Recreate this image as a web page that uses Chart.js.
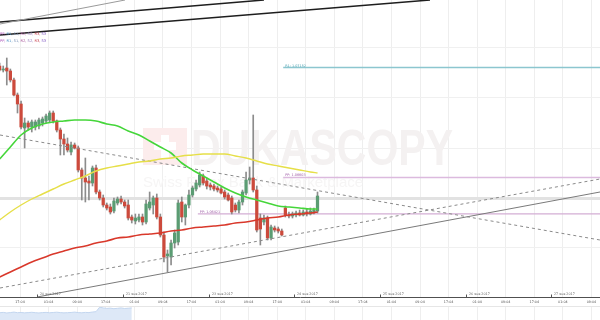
<!DOCTYPE html>
<html>
<head>
<meta charset="utf-8">
<script src="https://cdn.jsdelivr.net/npm/chart.js@4.4.1/dist/chart.umd.min.js"></script>
<style>
  html, body { margin:0; padding:0; background:#fff; }
  #wrap { position:relative; width:600px; height:320px; overflow:hidden; }
  #mainBox { position:absolute; left:0; top:0; width:600px; height:306px; }
  #volBox { position:absolute; left:0; top:306px; width:600px; height:14px; border-top:1px solid #e6e6e6; box-sizing:border-box; }
</style>
</head>
<body>
<div id="wrap">
  <div id="mainBox"><canvas id="main"></canvas></div>
  <div id="volBox"><canvas id="vol"></canvas></div>
</div>
<script>
// hourly candles, x = hour index
const opens  = [1.07160,1.07140,1.07150,1.07135,1.07090,1.07015,1.06970,1.06850,1.06875,1.06855,
                1.06855,1.06860,1.06875,1.06885,1.06890,1.06925,1.06885,1.06840,1.06795,1.06770,
                1.06730,1.06765,1.06750,1.06640,1.06600,1.06585,1.06575,1.06650,1.06530,1.06500,
                1.06465,1.06455,1.06435,1.06475,1.06495,1.06480,1.06465,1.06405,1.06385,1.06390,
                1.06405,1.06380,1.06450,1.06465,1.06500,1.06405,1.06315,1.06210,1.06205,1.06275,
                1.06280,1.06480,1.06405,1.06465,1.06515,1.06545,1.06565,1.06610,1.06585,1.06565,
                1.06560,1.06550,1.06545,1.06530,1.06515,1.06500,1.06465,1.06440,1.06480,1.06525,
                1.06590,1.06600,1.06540,1.06400,1.06380,1.06400,1.06300,1.06350,1.06345,1.06335,
                1.06450,1.06415,1.06410,1.06415,1.06425,1.06415,1.06430,1.06420,1.06430,1.06435];
const highs  = [1.07175,1.07160,1.07200,1.07145,1.07100,1.07025,1.06985,1.06900,1.06885,1.06890,
                1.06890,1.06900,1.06905,1.06920,1.06935,1.06935,1.06890,1.06850,1.06820,1.06800,
                1.06780,1.06775,1.06760,1.06650,1.06700,1.06610,1.06660,1.06665,1.06540,1.06515,
                1.06475,1.06470,1.06500,1.06505,1.06510,1.06490,1.06490,1.06415,1.06420,1.06420,
                1.06420,1.06490,1.06530,1.06510,1.06520,1.06420,1.06330,1.06240,1.06290,1.06340,
                1.06490,1.06505,1.06470,1.06540,1.06560,1.06590,1.06630,1.06620,1.06600,1.06575,
                1.06570,1.06560,1.06555,1.06540,1.06525,1.06510,1.06475,1.06490,1.06540,1.06630,
                1.06655,1.06915,1.06560,1.06420,1.06415,1.06410,1.06365,1.06360,1.06355,1.06345,
                1.06460,1.06430,1.06430,1.06435,1.06440,1.06440,1.06445,1.06450,1.06450,1.06530];
const lows   = [1.07135,1.07130,1.07065,1.07080,1.07010,1.06925,1.06845,1.06750,1.06840,1.06830,
                1.06840,1.06845,1.06860,1.06875,1.06880,1.06875,1.06830,1.06715,1.06715,1.06730,
                1.06715,1.06745,1.06630,1.06490,1.06480,1.06490,1.06560,1.06520,1.06490,1.06455,
                1.06440,1.06420,1.06425,1.06465,1.06470,1.06450,1.06390,1.06375,1.06370,1.06380,
                1.06365,1.06370,1.06440,1.06420,1.06395,1.06305,1.06180,1.06130,1.06165,1.06250,
                1.06265,1.06380,1.06365,1.06450,1.06505,1.06535,1.06555,1.06565,1.06545,1.06540,
                1.06535,1.06530,1.06520,1.06495,1.06485,1.06420,1.06430,1.06425,1.06465,1.06515,
                1.06570,1.06530,1.06330,1.06265,1.06365,1.06290,1.06290,1.06330,1.06325,1.06310,
                1.06405,1.06400,1.06400,1.06405,1.06410,1.06410,1.06410,1.06415,1.06420,1.06425];
const closes = [1.07140,1.07145,1.07135,1.07090,1.07015,1.06970,1.06855,1.06875,1.06855,1.06880,
                1.06880,1.06890,1.06895,1.06910,1.06925,1.06885,1.06840,1.06795,1.06770,1.06740,
                1.06765,1.06750,1.06640,1.06600,1.06580,1.06575,1.06650,1.06530,1.06500,1.06465,
                1.06450,1.06430,1.06485,1.06495,1.06480,1.06460,1.06400,1.06390,1.06400,1.06405,
                1.06380,1.06470,1.06480,1.06500,1.06405,1.06315,1.06205,1.06220,1.06275,1.06325,
                1.06475,1.06405,1.06465,1.06515,1.06550,1.06575,1.06615,1.06575,1.06560,1.06555,
                1.06545,1.06540,1.06525,1.06505,1.06490,1.06430,1.06440,1.06480,1.06530,1.06590,
                1.06600,1.06540,1.06340,1.06345,1.06400,1.06300,1.06355,1.06340,1.06335,1.06315,
                1.06415,1.06410,1.06420,1.06425,1.06415,1.06430,1.06420,1.06435,1.06440,1.06510];

// moving averages read every 3rd candle
const maIdx    = [0,3,6,9,12,15,18,21,24,27,30,33,36,39,42,45,48,51,54,57,60,63,66,69,72,75,78,81,84,87,89];
const maGreen  = [1.06695,1.06755,1.06815,1.06850,1.06870,1.06880,1.06885,1.06890,1.06890,1.06885,1.06870,
                  1.06860,1.06835,1.06815,1.06785,1.06755,1.06725,1.06675,1.06640,1.06610,1.06580,1.06550,
                  1.06525,1.06505,1.06490,1.06475,1.06460,1.06455,1.06450,1.06445,1.06445];
const maYellow = [1.06390,1.06430,1.06465,1.06495,1.06520,1.06545,1.06570,1.06590,1.06610,1.06635,1.06650,
                  1.06660,1.06670,1.06680,1.06685,1.06695,1.06700,1.06710,1.06715,1.06720,1.06720,1.06720,
                  1.06710,1.06700,1.06685,1.06670,1.06660,1.06650,1.06640,1.06630,1.06625];
const maRed    = [1.06105,1.06130,1.06155,1.06180,1.06200,1.06220,1.06235,1.06250,1.06260,1.06275,1.06285,
                  1.06300,1.06305,1.06315,1.06320,1.06325,1.06335,1.06340,1.06350,1.06355,1.06360,1.06365,
                  1.06375,1.06380,1.06390,1.06400,1.06405,1.06415,1.06420,1.06425,1.06430];

// volume (first hours only)
const volume = [780,820,760,800,850,790,810,770,800,830,790,760,800,820,780,810,840,800,770,790,
                810,850,800,780,820,800,860,900,1380,1300,1250,1280,1220,1260,1300,1240,1270,1300];

// drawn lines [hour, price]
const topGrey      = [[0.1, 1.07370], [35.1, 1.07490]];
const topBlackA    = [[0.1, 1.07380], [74.0, 1.07490]];
const topBlackB    = [[0.1, 1.07315], [120.5, 1.07490]];
const channelHigh  = [[0.1, 1.06815], [168.1, 1.06290]];
const channelLow   = [[0.1, 1.06050], [168.1, 1.06595]];
const supportLine  = [[10.5, 1.06005], [168.1, 1.06530]];

// pivots
const pivotNames  = ['R1', 'PP', 'PP'];
const pivotValues = [1.07152, 1.06603, 1.06421];
const pivotStarts = [79.4, 79.4, 55.5];

// axis labels
const hourLabels = ['17:04','01:04','09:04','17:04','01:04','09:04','17:04','01:04','09:04','17:04','01:04',
                    '09:04','17:04','01:04','09:04','17:04','01:04','09:04','17:04','01:04','09:04'];
const dateLabels = ['20 янв 2017','21 янв 2017','23 янв 2017','24 янв 2017','25 янв 2017','26 янв 2017','27 янв 2017'];
const gridLevels = [1.0625, 1.0650, 1.0675, 1.0700, 1.0725];
const legendNames = ['PP','R1','S1','R2','S2','R3','S3'];

const X_MIN = 0.1, X_MAX = 168.1;
const firstHourTick = 5.7, firstDateTick = 10.5;
const hourTicks = hourLabels.map((_, k) => firstHourTick + 8 * k);
const dateTicks = dateLabels.map((_, k) => firstDateTick + 24 * k);

const UP = '#5b9c73', DOWN = '#cc4a3c', WICK = '#8c8c8c';
const legendColors = ['#a548b4','#4b8fc4','#7c93b8','#a8559a','#8f6fb6','#c8404e','#7a4fc0'];
const pivotColors = ['#8cc6cf', '#dcbade', '#d3aed4'];
const pivotText = ['#4ea3b3', '#a060a8', '#a060a8'];

const candleColor = opens.map((o, i) => closes[i] >= o ? UP : DOWN);
const pts = arr => arr.map(p => ({x: p[0], y: p[1]}));
const ma = vals => vals.map((v, k) => ({x: maIdx[k], y: v}));

const overlay = {
  id: 'overlay',
  beforeDatasetsDraw(chart) {
    const {ctx, chartArea: a} = chart;
    ctx.save();
    ctx.beginPath(); ctx.rect(a.left, a.top, a.width, a.height); ctx.clip();
    ctx.fillStyle = '#fcecec';
    ctx.fillRect(143, 128, 44, 37);
    ctx.fillStyle = '#fff';
    ctx.fillRect(161, 135, 8, 23);
    ctx.fillRect(154, 142, 22, 8);
    ctx.fillStyle = '#f4f1f1';
    ctx.font = 'bold 50px "Liberation Sans", Arial, sans-serif';
    ctx.fillText('DUKASCOPY', 191, 165, 262);
    ctx.fillStyle = '#f6f5f5';
    ctx.font = '15px "Liberation Sans", Arial, sans-serif';
    ctx.fillText('Swiss Forex Bank & Marketplace', 143, 187, 305);
    ctx.restore();
  },
  afterDraw(chart) {
    const {ctx, chartArea: a, scales: {x, y}} = chart;
    ctx.save();
    // pivot labels
    ctx.font = '3.4px "DejaVu Sans", sans-serif';
    ctx.textBaseline = 'alphabetic';
    pivotValues.forEach((v, k) => {
      ctx.fillStyle = pivotText[k];
      ctx.fillText(pivotNames[k] + ': ' + v.toFixed(5), x.getPixelForValue(pivotStarts[k]) + 2, y.getPixelForValue(v) - 1);
    });
    // indicator legend rows
    ctx.font = '3.6px "DejaVu Sans", sans-serif';
    ctx.textBaseline = 'middle';
    [34, 41].forEach(rowY => {
      let px = 0;
      legendNames.forEach((n, k) => {
        const t = n + (k < legendNames.length - 1 ? ', ' : '');
        ctx.fillStyle = legendColors[k];
        ctx.fillText(t, px, rowY);
        px += ctx.measureText(t).width;
      });
    });
    // date ticks above axis
    ctx.font = '3.3px "DejaVu Sans", sans-serif';
    ctx.textBaseline = 'alphabetic';
    ctx.strokeStyle = '#555';
    ctx.lineWidth = 1;
    dateTicks.forEach((h, k) => {
      const px = Math.round(x.getPixelForValue(h)) + 0.5;
      ctx.beginPath(); ctx.moveTo(px, a.bottom - 2.5); ctx.lineTo(px, a.bottom); ctx.stroke();
      ctx.fillStyle = '#666';
      ctx.fillText(dateLabels[k], px + 2.5, a.bottom - 2);
    });
    ctx.restore();
  }
};

const xBase = {
  type: 'linear', min: X_MIN, max: X_MAX, offset: false,
  afterBuildTicks: s => { s.ticks = hourTicks.map(v => ({value: v})); }
};

const lineDs = (data, color, width, dash, order) => ({
  type: 'line', data, borderColor: color, borderWidth: width, borderDash: dash || [],
  pointRadius: 0, fill: false, tension: 0, order
});
const maDs = (vals, color, w) => ({
  type: 'line', data: ma(vals), borderColor: color, borderWidth: w,
  pointRadius: 0, fill: false, cubicInterpolationMode: 'monotone', order: 1
});

new Chart(document.getElementById('main'), {
  type: 'bar',
  data: {
    datasets: [
      lineDs(pts(topGrey), '#9a9a9a', 1, null, 2),
      lineDs(pts(topBlackA), '#1e1e1e', 1.5, null, 2),
      lineDs(pts(topBlackB), '#1e1e1e', 1.5, null, 2),
      lineDs(pts(channelHigh), '#8a8a8a', 1, [3, 3], 2),
      lineDs(pts(channelLow), '#8a8a8a', 1, [3, 3], 2),
      lineDs(pts(supportLine), '#7a7a7a', 1, null, 2),
      ...pivotValues.map((v, k) => lineDs([{x: pivotStarts[k], y: v}, {x: X_MAX, y: v}], pivotColors[k], k === 2 ? 1.2 : 1.5, null, 5)),
      maDs(maYellow, '#e6df48', 1.4),
      maDs(maGreen, '#45d63a', 1.6),
      maDs(maRed, '#d9382b', 1.6),
      {
        type: 'bar', grouped: false, order: 4, barThickness: 1,
        data: lows.map((l, i) => ({x: i, y: [l, highs[i]]})),
        backgroundColor: WICK
      },
      {
        type: 'bar', grouped: false, order: 3, barThickness: 2.6,
        data: opens.map((o, i) => ({x: i, y: [Math.min(o, closes[i]), Math.max(o, closes[i])]})),
        backgroundColor: candleColor
      }
    ]
  },
  options: {
    responsive: true, maintainAspectRatio: false, animation: false,
    layout: { padding: 0 },
    plugins: { legend: { display: false }, tooltip: { enabled: false } },
    scales: {
      x: Object.assign({}, xBase, {
        position: 'bottom',
        grid: { color: '#eeeeee', drawTicks: false, offset: false },
        border: { color: '#505050', width: 1 },
        ticks: { padding: 3, color: '#555', font: { size: 3.3, family: 'DejaVu Sans' },
                 callback: (v, i) => hourLabels[i], maxRotation: 0, autoSkip: false },
        afterFit: s => { s.height = 9; }
      }),
      y: {
        type: 'linear', min: 1.06005, max: 1.0749,
        afterBuildTicks: s => { s.ticks = gridLevels.map(v => ({value: v})); },
        grid: {
          drawTicks: false,
          color: c => Math.abs(c.tick.value - 1.065) < 1e-6 ? '#e2e2e2' : '#f0f0f0',
          lineWidth: c => Math.abs(c.tick.value - 1.065) < 1e-6 ? 3 : 1
        },
        border: { display: false },
        ticks: { display: false },
        afterFit: s => { s.width = 0; }
      }
    }
  },
  plugins: [overlay]
});

new Chart(document.getElementById('vol'), {
  type: 'line',
  data: {
    datasets: [{
      data: volume.map((v, i) => ({x: i, y: v})),
      borderColor: '#c3d6ef', borderWidth: 1, backgroundColor: '#dde8f7',
      fill: 'origin', pointRadius: 0, tension: 0
    }]
  },
  options: {
    responsive: true, maintainAspectRatio: false, animation: false,
    layout: { padding: 0 },
    plugins: { legend: { display: false }, tooltip: { enabled: false } },
    scales: {
      x: Object.assign({}, xBase, {
        grid: { color: '#eeeeee', drawTicks: false },
        border: { display: false },
        ticks: { display: false },
        afterFit: s => { s.height = 0; }
      }),
      y: { display: false, min: 0, max: 1400 }
    }
  }
});
</script>
</body>
</html>
